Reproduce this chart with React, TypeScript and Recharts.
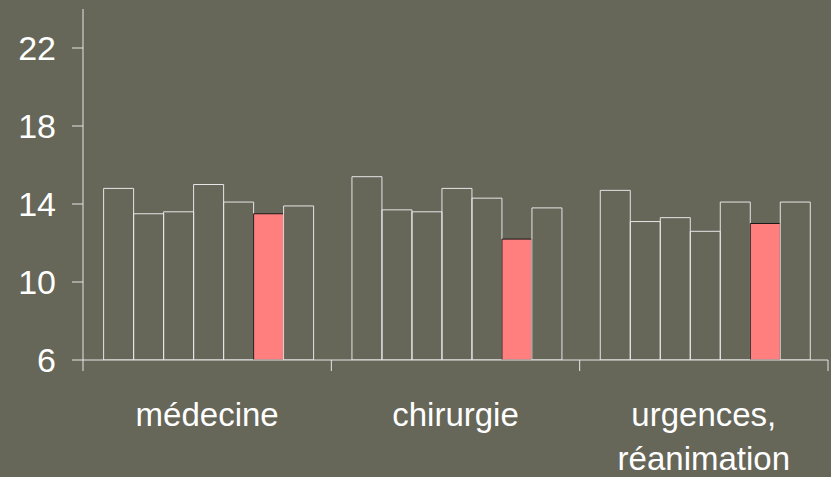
import { BarChart, Bar, XAxis, YAxis } from 'recharts';

const categories = ['médecine', 'chirurgie', 'urgences,\nréanimation'];

// seven bars per category; the sixth one is highlighted
const series1 = [14.8, 15.4, 14.7];
const series2 = [13.5, 13.7, 13.1];
const series3 = [13.6, 13.6, 13.3];
const series4 = [15.0, 14.8, 12.6];
const series5 = [14.1, 14.3, 14.1];
const series6 = [13.5, 12.2, 13.0];
const series7 = [13.9, 13.8, 14.1];

const yTicks = [6, 10, 14, 18, 22];

const allSeries = [series1, series2, series3, series4, series5, series6, series7];
const data = categories.map((name, i) => {
  const row: Record<string, string | number> = { name };
  allSeries.forEach((s, k) => {
    row[`s${k + 1}`] = s[i];
  });
  return row;
});

const BG = '#666659';
const LINE = '#e6e6e6';
const HIGHLIGHT = '#ff7f7f';
const FONT = '"Liberation Sans", Arial, sans-serif';
const MARK = 11;

// category label plus the short marks on the band edges
function CategoryTick({ x, y, payload, index, width, visibleTicksCount }: any) {
  const lines = String(payload.value).split('\n');
  const half =
    typeof payload.offset === 'number' && payload.offset > 0
      ? payload.offset
      : width / (2 * visibleTicksCount);
  const isLast = index === visibleTicksCount - 1;
  return (
    <g>
      <line x1={x - half} y1={y} x2={x - half} y2={y + MARK} stroke={LINE} />
      {isLast && <line x1={x + half} y1={y} x2={x + half} y2={y + MARK} stroke={LINE} />}
      <text x={x} y={y} textAnchor="middle" fill="#ffffff" fontSize={33} fontFamily={FONT}>
        {lines.map((line, i) => (
          <tspan key={i} x={x} y={y + 66 + i * 44}>
            {line}
          </tspan>
        ))}
      </text>
    </g>
  );
}

export default function App() {
  return (
    <div style={{ position: 'absolute', left: 0, top: 0, width: 831, height: 477, background: BG }}>
      <BarChart
        width={831}
        height={477}
        data={data}
        margin={{ top: 9, right: 3, left: 0, bottom: 0 }}
        barCategoryGap="8.3%"
        barGap={0}
      >
        <XAxis
          dataKey="name"
          tick={<CategoryTick />}
          tickLine={false}
          tickSize={0}
          tickMargin={0}
          axisLine={{ stroke: LINE }}
          height={117}
          interval={0}
        />
        <YAxis
          type="number"
          domain={[6, 24]}
          ticks={yTicks}
          width={83}
          tickSize={11}
          tickMargin={16}
          axisLine={{ stroke: LINE }}
          tickLine={{ stroke: LINE }}
          tick={{ fill: '#ffffff', fontSize: 34, fontFamily: FONT }}
          allowDataOverflow
        />
        {allSeries.map((_, k) => (
          <Bar
            key={k}
            dataKey={`s${k + 1}`}
            fill={k === 5 ? HIGHLIGHT : 'none'}
            stroke={k === 5 ? '#1a1a1a' : LINE}
            strokeWidth={1}
            isAnimationActive={false}
          />
        ))}
      </BarChart>
    </div>
  );
}
